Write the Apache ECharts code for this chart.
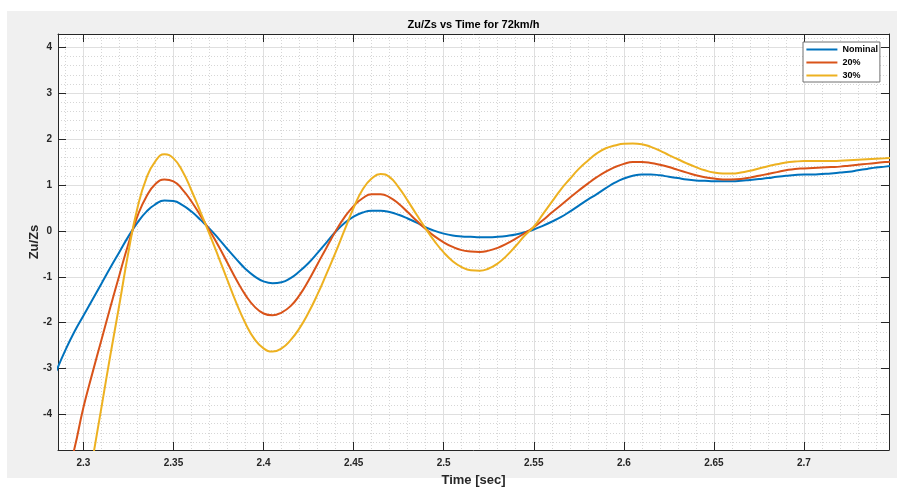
<!DOCTYPE html>
<html>
<head>
<meta charset="utf-8">
<title>Zu/Zs vs Time for 72km/h</title>
<script src="https://cdn.jsdelivr.net/npm/echarts@6/dist/echarts.min.js"></script>
<style>
  html, body { margin: 0; padding: 0; background: #ffffff; }
  #wrap { position: relative; width: 904px; height: 488px; overflow: hidden; }
  #panel { position: absolute; left: 7px; top: 11px; width: 890px; height: 467px; background: #f0f0f0; }
  #chart { position: absolute; left: 0; top: 0; width: 904px; height: 488px; }
</style>
</head>
<body>
<div id="wrap">
  <div id="panel"></div>
  <div id="chart"></div>
</div>
<script>
// Sample times [sec]
const time = [
  2.285, 2.290, 2.295, 2.300, 2.305, 2.310, 2.315, 2.320, 2.325, 2.330,
  2.335, 2.340, 2.345, 2.350, 2.355, 2.360, 2.365, 2.370, 2.375, 2.380,
  2.385, 2.390, 2.395, 2.400, 2.405, 2.410, 2.415, 2.420, 2.425, 2.430,
  2.435, 2.440, 2.445, 2.450, 2.455, 2.460, 2.465, 2.470, 2.475, 2.480,
  2.485, 2.490, 2.495, 2.500, 2.505, 2.510, 2.515, 2.520, 2.525, 2.530,
  2.535, 2.540, 2.545, 2.550, 2.555, 2.560, 2.565, 2.570, 2.575, 2.580,
  2.585, 2.590, 2.595, 2.600, 2.605, 2.610, 2.615, 2.620, 2.625, 2.630,
  2.635, 2.640, 2.645, 2.650, 2.655, 2.660, 2.665, 2.670, 2.675, 2.680,
  2.685, 2.690, 2.695, 2.700, 2.705, 2.710, 2.715, 2.720, 2.725, 2.730,
  2.735, 2.740, 2.745, 2.750
];

// Zu/Zs response, nominal parameters
const nominal = [
  -3.05, -2.60, -2.20, -1.85, -1.50, -1.15, -0.80, -0.46, -0.12, 0.18,
  0.42, 0.58, 0.66, 0.65, 0.56, 0.42, 0.24, 0.05, -0.17, -0.40,
  -0.62, -0.83, -0.99, -1.10, -1.14, -1.12, -1.03, -0.88, -0.70, -0.48,
  -0.25, -0.02, 0.17, 0.31, 0.40, 0.44, 0.44, 0.41, 0.35, 0.27,
  0.18, 0.08, 0.00, -0.06, -0.10, -0.12, -0.13, -0.14, -0.14, -0.13,
  -0.11, -0.08, -0.03, 0.03, 0.11, 0.20, 0.30, 0.42, 0.55, 0.68,
  0.80, 0.93, 1.05, 1.14, 1.20, 1.23, 1.23, 1.21, 1.18, 1.15,
  1.12, 1.10, 1.09, 1.08, 1.08, 1.08, 1.09, 1.11, 1.13, 1.15,
  1.18, 1.20, 1.22, 1.23, 1.23, 1.24, 1.25, 1.27, 1.29, 1.32,
  1.35, 1.38, 1.40, 1.42
];

// Zu/Zs response, 20% variation
const var20 = [
  -6.30, -5.50, -4.75, -3.85, -3.10, -2.38, -1.66, -0.96, -0.28, 0.32,
  0.75, 1.02, 1.12, 1.08, 0.90, 0.64, 0.33, 0.01, -0.33, -0.70,
  -1.07, -1.40, -1.65, -1.80, -1.84, -1.78, -1.64, -1.40, -1.08, -0.72,
  -0.36, -0.01, 0.30, 0.54, 0.71, 0.80, 0.80, 0.73, 0.59, 0.41,
  0.22, 0.04, -0.12, -0.25, -0.35, -0.42, -0.45, -0.46, -0.43, -0.37,
  -0.28, -0.17, -0.05, 0.08, 0.23, 0.40, 0.56, 0.72, 0.88, 1.03,
  1.17, 1.29, 1.39, 1.46, 1.50, 1.50, 1.48, 1.44, 1.39, 1.33,
  1.27, 1.21, 1.17, 1.14, 1.12, 1.12, 1.13, 1.16, 1.20, 1.24,
  1.28, 1.32, 1.35, 1.36, 1.37, 1.38, 1.39, 1.40, 1.42, 1.44,
  1.46, 1.48, 1.50, 1.51
];

// Zu/Zs response, 30% variation
const var30 = [
  -9.60, -8.45, -7.30, -6.15, -5.00, -3.85, -2.70, -1.60, -0.46, 0.50,
  1.15, 1.52, 1.67, 1.58, 1.30, 0.88, 0.41, -0.07, -0.57, -1.08,
  -1.58, -2.02, -2.36, -2.56, -2.63, -2.56, -2.38, -2.12, -1.78, -1.38,
  -0.93, -0.47, 0.02, 0.50, 0.90, 1.14, 1.24, 1.17, 0.95, 0.66,
  0.35, 0.05, -0.23, -0.47, -0.66, -0.79, -0.86, -0.87, -0.82, -0.71,
  -0.54, -0.33, -0.10, 0.09, 0.36, 0.63, 0.90, 1.13, 1.35, 1.53,
  1.69, 1.80, 1.86, 1.90, 1.905, 1.89, 1.83, 1.75, 1.65, 1.56,
  1.47, 1.39, 1.32, 1.27, 1.25, 1.25, 1.27, 1.31, 1.36, 1.41,
  1.45, 1.49, 1.51, 1.52, 1.52, 1.52, 1.52, 1.53, 1.54, 1.55,
  1.56, 1.57, 1.58, 1.59
];

const seriesNames = ['Nominal', '20%', '30%'];
const seriesValues = [nominal, var20, var30];

// Axis ticks and limits
const xTicks = [2.3, 2.35, 2.4, 2.45, 2.5, 2.55, 2.6, 2.65, 2.7];
const yTicks = [-4, -3, -2, -1, 0, 1, 2, 3, 4];
const xLimits = [2.2859, 2.7472];
const yLimits = [-4.775, 4.29];

// Minor grid positions (between the major ticks)
function minorGrid(from, to, step, majors) {
  const out = [];
  for (let i = 0; from + i * step <= to + 1e-9; i++) {
    const v = +(from + i * step).toFixed(4);
    if (!majors.some(m => Math.abs(m - v) < 1e-6)) out.push(v);
  }
  return out;
}
const xMinor = minorGrid(2.29, 2.74, 0.01, xTicks);
const yMinor = minorGrid(-4.6, 4.2, 0.2, yTicks);

const FONT = '"Liberation Sans", Arial, Helvetica, sans-serif';
const INK = '#262626';
const COLORS = ['#0072BD', '#D95319', '#EDB120'];
const MAJOR_GRID = '#dfdfdf';
const MINOR_GRID = '#d6d6d6';

const chart = echarts.init(document.getElementById('chart'), null, { renderer: 'canvas' });

const borderAxis = {
  type: 'value',
  axisLine: { show: true, onZero: false, lineStyle: { color: INK, width: 1 } },
  axisLabel: { show: false },
  splitLine: { show: false }
};
const minorAxis = {
  type: 'value',
  axisLine: { show: false },
  axisLabel: { show: false },
  splitLine: { show: true, lineStyle: { color: MINOR_GRID, width: 1, type: [1, 2] } }
};

const option = {
  animation: false,
  backgroundColor: 'transparent',
  grid: {
    left: 58, top: 34, width: 831, height: 416,
    show: true, backgroundColor: '#ffffff', borderWidth: 0,
    containLabel: false, outerBoundsMode: 'none'
  },
  graphic: [{
    type: 'text', x: 473.5, y: 25,
    style: {
      text: 'Zu/Zs vs Time for 72km/h', align: 'center', verticalAlign: 'middle',
      fontFamily: FONT, fontWeight: 'bold', fontSize: 11, fill: '#000000'
    }
  }],
  legend: {
    orient: 'vertical', left: 803, top: 42,
    padding: [2, 2, 1, 3.4],
    itemWidth: 31, itemHeight: 2, itemGap: 2, icon: 'rect',
    backgroundColor: '#ffffff', borderColor: '#707070', borderWidth: 1, borderRadius: 0,
    textStyle: { fontFamily: FONT, fontWeight: 'bold', fontSize: 9, color: '#000000', lineHeight: 11 },
    data: seriesNames
  },
  xAxis: [
    {
      type: 'value', position: 'bottom', min: xLimits[0], max: xLimits[1],
      name: 'Time [sec]', nameLocation: 'middle', nameGap: 24,
      nameTextStyle: { fontFamily: FONT, fontWeight: 'bold', fontSize: 13, color: INK },
      axisLine: { show: true, onZero: false, lineStyle: { color: INK, width: 1 } },
      axisTick: { show: true, inside: true, length: 8, customValues: xTicks, lineStyle: { color: INK } },
      axisLabel: {
        customValues: xTicks, margin: 8, fontFamily: FONT, fontWeight: 'bold', fontSize: 10, color: INK,
        formatter: v => String(+(+v).toFixed(2))
      },
      splitLine: { show: true, lineStyle: { color: MAJOR_GRID, width: 1 } }
    },
    Object.assign({}, borderAxis, {
      position: 'top', min: xLimits[0], max: xLimits[1],
      axisTick: { show: true, inside: true, length: 8, customValues: xTicks, lineStyle: { color: INK } }
    }),
    Object.assign({}, minorAxis, {
      position: 'bottom', min: xLimits[0], max: xLimits[1],
      axisTick: { show: false, customValues: xMinor }
    })
  ],
  yAxis: [
    {
      type: 'value', position: 'left', min: yLimits[0], max: yLimits[1],
      name: 'Zu/Zs', nameLocation: 'middle', nameGap: 17, nameRotate: 90, nameMoveOverlap: false,
      nameTextStyle: { fontFamily: FONT, fontWeight: 'bold', fontSize: 13, color: INK },
      axisLine: { show: true, onZero: false, lineStyle: { color: INK, width: 1 } },
      axisTick: { show: true, inside: true, length: 8, customValues: yTicks, lineStyle: { color: INK } },
      axisLabel: {
        customValues: yTicks, margin: 6, fontFamily: FONT, fontWeight: 'bold', fontSize: 10, color: INK,
        formatter: v => String(Math.round(v))
      },
      splitLine: { show: true, lineStyle: { color: MAJOR_GRID, width: 1 } }
    },
    Object.assign({}, borderAxis, {
      position: 'right', min: yLimits[0], max: yLimits[1],
      axisTick: { show: true, inside: true, length: 8, customValues: yTicks, lineStyle: { color: INK } }
    }),
    Object.assign({}, minorAxis, {
      position: 'left', min: yLimits[0], max: yLimits[1],
      axisTick: { show: false, customValues: yMinor }
    })
  ],
  series: seriesNames.map((name, i) => ({
    name: name,
    type: 'line',
    xAxisIndex: 0,
    yAxisIndex: 0,
    data: time.map((t, k) => [t, seriesValues[i][k]]),
    showSymbol: false,
    symbol: 'none',
    smooth: 0.5,
    clip: true,
    z: 10 + i,
    lineStyle: { width: 2, color: COLORS[i] },
    itemStyle: { color: COLORS[i] }
  }))
};

chart.setOption(option);
</script>
</body>
</html>
